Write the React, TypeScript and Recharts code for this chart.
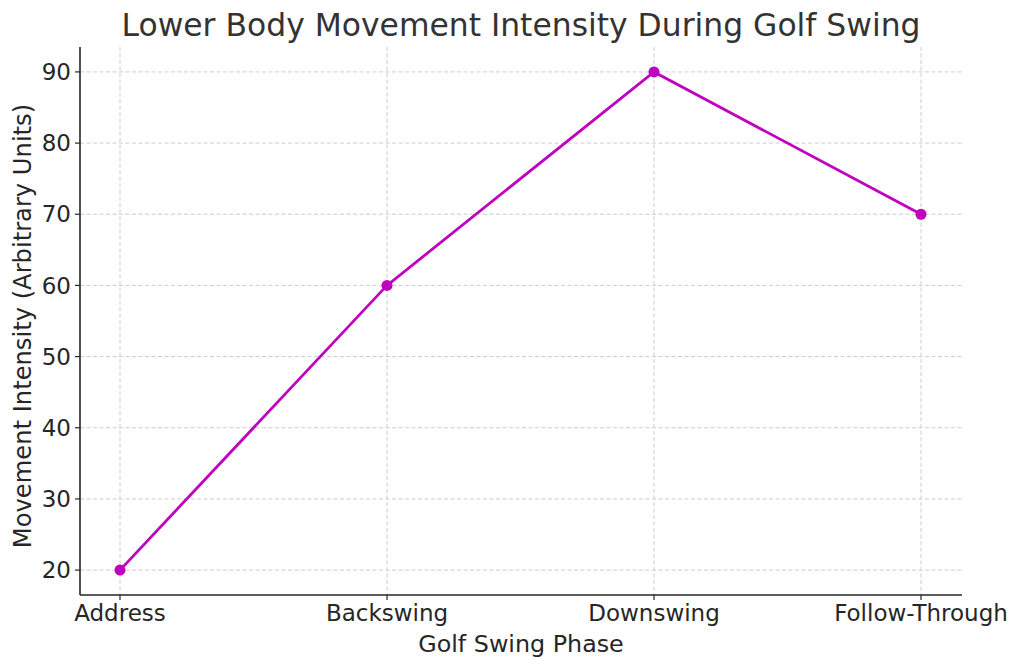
import { LineChart, Line, XAxis, YAxis, CartesianGrid, Label } from 'recharts'

const phases = ['Address', 'Backswing', 'Downswing', 'Follow-Through']
const intensity = [20, 60, 90, 70]
const yTicks = [20, 30, 40, 50, 60, 70, 80, 90]

const data = phases.map((phase, i) => ({ phase, intensity: intensity[i] }))

const FONT = "'DejaVu Sans', sans-serif"
const INK = '#262626'
const MAGENTA = '#bf00bf'

interface LabelViewBox {
  x?: number
  y?: number
  width?: number
  height?: number
}

function XLabel({ viewBox }: { viewBox?: LabelViewBox }) {
  const vb = viewBox || {}
  const cx = (vb.x ?? 0) + (vb.width ?? 0) / 2
  return (
    <text x={cx} y={652} textAnchor="middle" fontFamily={FONT} fontSize={23.8} fill={INK}>
      Golf Swing Phase
    </text>
  )
}

function YLabel({ viewBox }: { viewBox?: LabelViewBox }) {
  const vb = viewBox || {}
  // matplotlib centres the rotated label a little below the plot middle
  const cy = (vb.y ?? 0) + (vb.height ?? 0) / 2 + 5
  return (
    <text
      x={30.5}
      y={cy}
      transform={`rotate(-90, 30.5, ${cy})`}
      textAnchor="middle"
      fontFamily={FONT}
      fontSize={24.2}
      fill={INK}
    >
      Movement Intensity (Arbitrary Units)
    </text>
  )
}

export default function App() {
  return (
    <div style={{ position: 'absolute', left: 0, top: 0, width: 1024, height: 669, background: '#ffffff' }}>
      <svg width={1024} height={669} style={{ position: 'absolute', left: 0, top: 0, pointerEvents: 'none' }}>
        <text x={521} y={36} textAnchor="middle" fontFamily={FONT} fontSize={31.4} fill="#333333">
          Lower Body Movement Intensity During Golf Swing
        </text>
      </svg>
      <LineChart
        width={1024}
        height={669}
        data={data}
        margin={{ top: 47, right: 62, bottom: 34, left: 0 }}
      >
        <CartesianGrid stroke="#cccccc" strokeDasharray="4 2.5" syncWithTicks />
        <XAxis
          dataKey="phase"
          interval={0}
          padding={{ left: 40, right: 41 }}
          height={40}
          tickSize={5}
          tickMargin={5}
          axisLine={{ stroke: INK, strokeWidth: 1.6 }}
          tickLine={{ stroke: INK, strokeWidth: 1.2 }}
          tick={{ fill: INK, fontSize: 23, fontFamily: FONT }}
        >
          <Label content={<XLabel />} />
        </XAxis>
        <YAxis
          type="number"
          domain={[16.5, 93.5]}
          ticks={yTicks}
          width={80}
          tickSize={5}
          tickMargin={4}
          axisLine={{ stroke: INK, strokeWidth: 1.6 }}
          tickLine={{ stroke: INK, strokeWidth: 1.2 }}
          tick={{ fill: INK, fontSize: 23, fontFamily: FONT }}
        >
          <Label content={<YLabel />} />
        </YAxis>
        <Line
          type="linear"
          dataKey="intensity"
          stroke={MAGENTA}
          strokeWidth={2.8}
          dot={{ r: 5.5, fill: MAGENTA, stroke: 'none' }}
          isAnimationActive={false}
        />
      </LineChart>
    </div>
  )
}
